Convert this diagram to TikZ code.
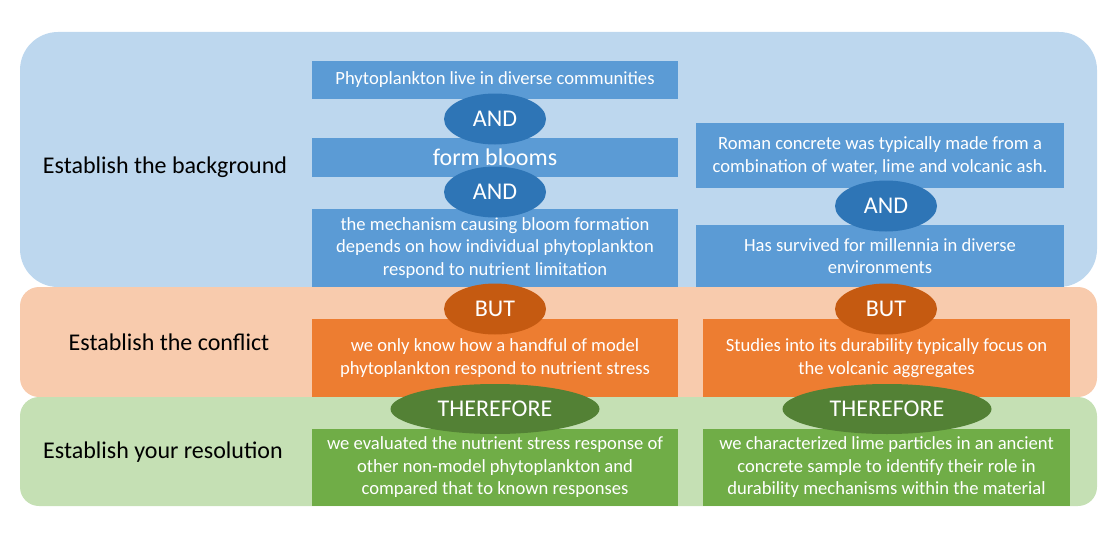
\documentclass[tikz,border=0pt]{standalone}
\usepackage{fontspec}
\setmainfont{Carlito}
\usetikzlibrary{shapes.geometric}

\definecolor{bandblue}{HTML}{BDD7EE}
\definecolor{boxblue}{HTML}{5B9BD5}
\definecolor{ovalblue}{HTML}{2E75B6}
\definecolor{bandorange}{HTML}{F8CBAD}
\definecolor{boxorange}{HTML}{ED7D31}
\definecolor{ovalorange}{HTML}{C55A11}
\definecolor{bandgreen}{HTML}{C5E0B4}
\definecolor{boxgreen}{HTML}{70AD47}
\definecolor{ovalgreen}{HTML}{538135}

\begin{document}
\begin{tikzpicture}[x=1pt, y=-1pt,
    textbox/.style={rectangle, inner sep=0pt, text=white, align=center,
        font=\fontsize{18.6}{22.5}\selectfont},
    joiner/.style={ellipse, inner sep=0pt, minimum width=102pt, minimum height=51pt,
        text=white, font=\fontsize{24}{26}\selectfont},
    stage/.style={text=black, font=\fontsize{24}{26}\selectfont}]
    \useasboundingbox (0, 0) rectangle (1116, 535);

    % Bands
    \fill[bandblue, rounded corners=38pt] (20, 32) rectangle (1097, 287);
    \fill[bandorange, rounded corners=19pt] (20, 287) rectangle (1097, 397);
    \fill[bandgreen, rounded corners=19pt] (20, 397) rectangle (1097, 506);

    % Stage labels
    \node[stage] (background) at (165, 167) {Establish the background};
    \node[stage] (conflict) at (169, 342) {Establish the conflict};
    \node[stage] (resolution) at (163, 452) {Establish your resolution};

    % Left column: phytoplankton
    \node[textbox, fill=boxblue, minimum width=366pt, minimum height=38pt] (live) at (495, 80)
        {Phytoplankton live in diverse communities};
    \node[textbox, fill=boxblue, minimum width=366pt, minimum height=39pt,
        font=\fontsize{24}{26}\selectfont] (blooms) at (495, 157.5) {form blooms};
    \node[textbox, fill=boxblue, minimum width=366pt, minimum height=78pt] (mechanism) at (495, 248)
        {the mechanism causing bloom formation\\depends on how individual phytoplankton\\respond to nutrient limitation};
    \node[textbox, fill=boxorange, minimum width=366pt, minimum height=78pt] (known) at (495, 358)
        {we only know how a handful of model\\phytoplankton respond to nutrient stress};
    \node[textbox, fill=boxgreen, minimum width=366pt, minimum height=77pt] (evaluated) at (495, 467.5)
        {we evaluated the nutrient stress response of\\other non-model phytoplankton and\\compared that to known responses};

    % Right column: Roman concrete
    \node[textbox, fill=boxblue, minimum width=368pt, minimum height=65pt] (roman) at (880, 155.5)
        {Roman concrete was typically made from a\\combination of water, lime and volcanic ash.};
    \node[textbox, fill=boxblue, minimum width=368pt, minimum height=62pt] (survived) at (880, 256)
        {Has survived for millennia in diverse\\environments};
    \node[textbox, fill=boxorange, minimum width=367pt, minimum height=78pt] (studies) at (886.5, 358)
        {Studies into its durability typically focus on\\the volcanic aggregates};
    \node[textbox, fill=boxgreen, minimum width=367pt, minimum height=77pt] (lime) at (886.5, 467.5)
        {we characterized lime particles in an ancient\\concrete sample to identify their role in\\durability mechanisms within the material};

    % Joining words
    \node[joiner, fill=ovalblue] (and1) at (495, 119) {AND};
    \node[joiner, fill=ovalblue] (and2) at (495, 192) {AND};
    \node[joiner, fill=ovalblue] (and3) at (886, 206) {AND};
    \node[joiner, fill=ovalorange] (but1) at (495, 309) {BUT};
    \node[joiner, fill=ovalorange] (but2) at (886, 309) {BUT};
    \node[joiner, fill=ovalgreen, minimum width=209pt, minimum height=50pt] (therefore1) at (495, 409) {THEREFORE};
    \node[joiner, fill=ovalgreen, minimum width=209pt, minimum height=50pt] (therefore2) at (887, 409) {THEREFORE};
\end{tikzpicture}
\end{document}
